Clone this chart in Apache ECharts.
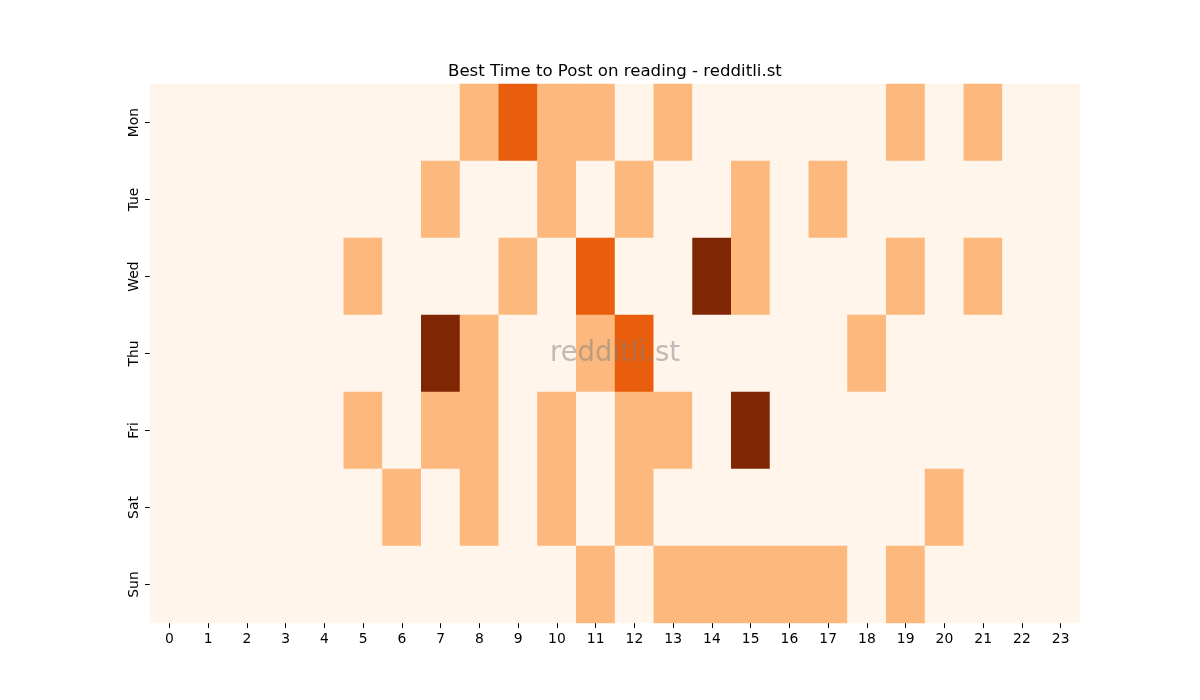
<!DOCTYPE html>
<html>
<head>
<meta charset="utf-8">
<script src="https://cdn.jsdelivr.net/npm/echarts@6/dist/echarts.min.js"></script>
<style>
  html, body { margin: 0; padding: 0; background: #fff; }
  #chart { width: 1200px; height: 700px; }
</style>
</head>
<body>
<div id="chart"></div>
<script>
const hours = ['0','1','2','3','4','5','6','7','8','9','10','11','12','13','14','15','16','17','18','19','20','21','22','23'];
const days = ['Mon', 'Tue', 'Wed', 'Thu', 'Fri', 'Sat', 'Sun'];

// posts per hour, one row per day (0..23)
const mon = [0,0,0,0,0,0,0,0,1,2,1,1,0,1,0,0,0,0,0,1,0,1,0,0];
const tue = [0,0,0,0,0,0,0,1,0,0,1,0,1,0,0,1,0,1,0,0,0,0,0,0];
const wed = [0,0,0,0,0,1,0,0,0,1,0,2,0,0,3,1,0,0,0,1,0,1,0,0];
const thu = [0,0,0,0,0,0,0,3,1,0,0,1,2,0,0,0,0,0,1,0,0,0,0,0];
const fri = [0,0,0,0,0,1,0,1,1,0,1,0,1,1,0,3,0,0,0,0,0,0,0,0];
const sat = [0,0,0,0,0,0,1,0,1,0,1,0,1,0,0,0,0,0,0,0,1,0,0,0];
const sun = [0,0,0,0,0,0,0,0,0,0,0,1,0,1,1,1,1,1,0,1,0,0,0,0];

const rows = [mon, tue, wed, thu, fri, sat, sun];
const cells = [];
rows.forEach(function (row, d) {
    row.forEach(function (v, h) {
        cells.push([h, d, v]);
    });
});

const chart = echarts.init(document.getElementById('chart'));
chart.setOption({
    animation: false,
    title: {
        text: 'Best Time to Post on reading - redditli.st',
        left: 443,
        top: 58,
        textStyle: { color: '#000', fontSize: 16.6, fontWeight: 'normal', fontFamily: 'DejaVu Sans' }
    },
    grid: { left: 150, right: 120, top: 84, bottom: 77 },
    xAxis: {
        type: 'category',
        data: hours,
        axisLine: { show: false },
        axisTick: { show: true, alignWithLabel: true, length: 5, lineStyle: { color: '#000' } },
        axisLabel: { color: '#000', fontSize: 13.9, fontFamily: 'DejaVu Sans', margin: 9 },
        splitLine: { show: false }
    },
    yAxis: {
        type: 'category',
        data: days,
        inverse: true,
        axisLine: { show: false },
        axisTick: { show: true, alignWithLabel: true, length: 5, lineStyle: { color: '#000' } },
        axisLabel: { color: '#000', fontSize: 13.9, fontFamily: 'DejaVu Sans', rotate: 90, margin: 9 },
        splitLine: { show: false }
    },
    visualMap: {
        show: false,
        type: 'piecewise',
        dimension: 2,
        pieces: [
            { value: 0, color: '#fff5eb' },
            { value: 1, color: '#fdb97d' },
            { value: 2, color: '#e95e0d' },
            { value: 3, color: '#7f2704' }
        ]
    },
    graphic: [{
        type: 'text',
        z: 100,
        x: 615,
        y: 354,
        style: {
            text: 'redditli.st',
            align: 'center',
            verticalAlign: 'middle',
            fontSize: 27.5,
            fontFamily: 'DejaVu Sans',
            fill: 'rgba(128,128,128,0.5)'
        }
    }],
    series: [{
        type: 'heatmap',
        data: cells,
        itemStyle: { borderWidth: 0 },
        emphasis: { disabled: true }
    }]
});
</script>
</body>
</html>
